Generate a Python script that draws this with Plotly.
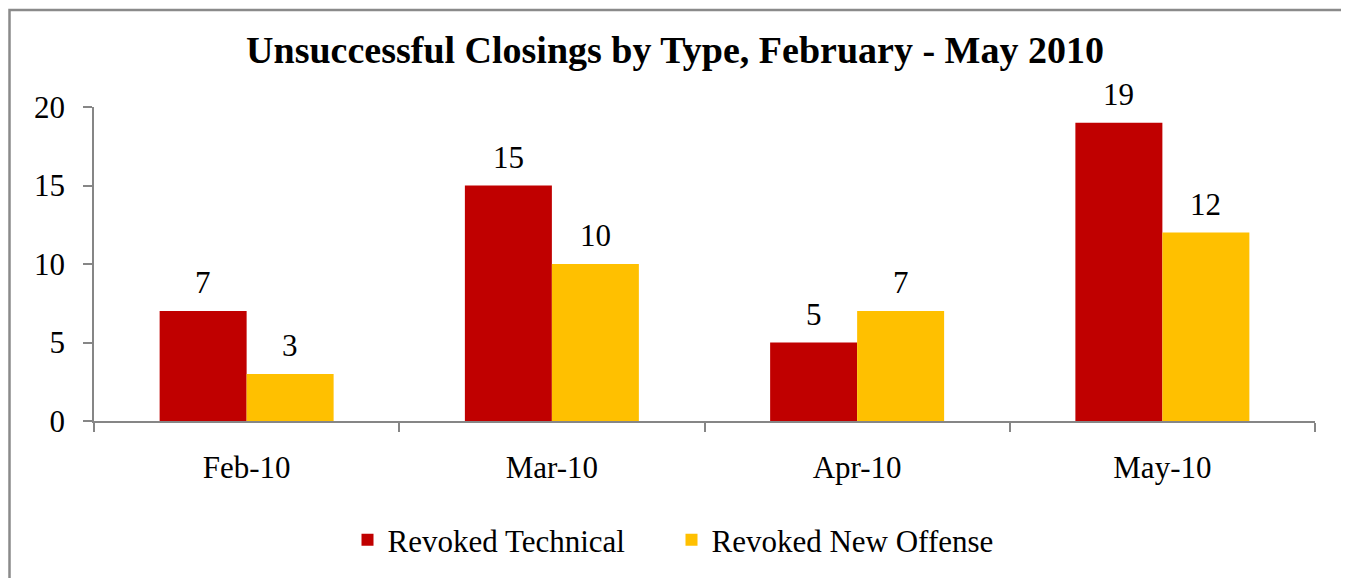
import plotly.graph_objects as go

categories = ["Feb-10", "Mar-10", "Apr-10", "May-10"]
revoked_technical = [7, 15, 5, 19]
revoked_new_offense = [3, 10, 7, 12]
series_names = ["Revoked Technical", "Revoked New Offense"]
colors = ["#C00000", "#FFC000"]
title_text = "Unsuccessful Closings by Type, February - May 2010"

FONT = "Liberation Serif, Times New Roman, serif"
OFF = 8  # page body margin
W, H = 1349 - OFF, 578 - OFF
PL, PT, PW, PH = 94, 107, 1221, 314  # plot area in screen pixels
L, T = PL - OFF, PT - OFF
R = W - L - PW
B = H - T - PH

def px_x(p):
    return (p - PL) / PW

def px_y(p):
    return (PT + PH - p) / PH

fig = go.Figure()
for name, vals, col in zip(series_names, [revoked_technical, revoked_new_offense], colors):
    fig.add_trace(go.Bar(x=categories, y=vals, name=name, marker=dict(color=col, line=dict(width=0))))

bargap = 0.43
bar_px = PW / len(categories) * (1 - bargap) / 2
annotations = []
for i, vals in enumerate([revoked_technical, revoked_new_offense]):
    shift = (-0.5 if i == 0 else 0.5) * bar_px
    for c, v in zip(categories, vals):
        annotations.append(dict(x=c, y=v, xref="x", yref="y", text=str(v), showarrow=False,
                                xshift=shift, yshift=9, yanchor="bottom",
                                font=dict(family=FONT, size=31, color="black")))

border = "#8a8a8a"
shapes = [
    dict(type="rect", xref="paper", yref="paper", x0=px_x(9.5), x1=px_x(1344.5), y0=px_y(640), y1=px_y(10),
         line=dict(color=border, width=2.5), fillcolor="rgba(0,0,0,0)", layer="below"),
]

fig.update_layout(
    width=W, height=H,
    margin=dict(l=L, r=R, t=T, b=B, autoexpand=False),
    paper_bgcolor="white", plot_bgcolor="white",
    barmode="group", bargap=bargap, bargroupgap=0,
    title=dict(text="<b>" + title_text + "</b>", x=px_x(675) * PW / W + L / W, xanchor="center",
               y=1 - (50 - OFF) / H, yanchor="middle",
               font=dict(family=FONT, size=38, color="black")),
    font=dict(family=FONT, size=31, color="black"),
    xaxis=dict(type="category", showline=True, linecolor="#868686", linewidth=1.5,
               ticks="outside", tickson="boundaries", ticklen=9, tickcolor="#868686", tickwidth=1.5,
               showgrid=False, tickfont=dict(family=FONT, size=31, color="black"), ticklabelstandoff=18),
    yaxis=dict(range=[0, 20], dtick=5, tick0=0, showline=True, linecolor="#868686", linewidth=1.5,
               ticks="outside", ticklen=9, tickcolor="#868686", tickwidth=1.5, showgrid=False, zeroline=False,
               tickfont=dict(family=FONT, size=31, color="black"), ticklabelstandoff=12),
    legend=dict(orientation="h", x=px_x(671.5), xanchor="center", y=px_y(540), yanchor="middle",
                font=dict(family=FONT, size=31, color="black"), bgcolor="rgba(0,0,0,0)", itemwidth=30,
                entrywidth=279, entrywidthmode="pixels"),
    showlegend=True,
    annotations=annotations,
    shapes=shapes,
)

fig.write_html("out.html")
